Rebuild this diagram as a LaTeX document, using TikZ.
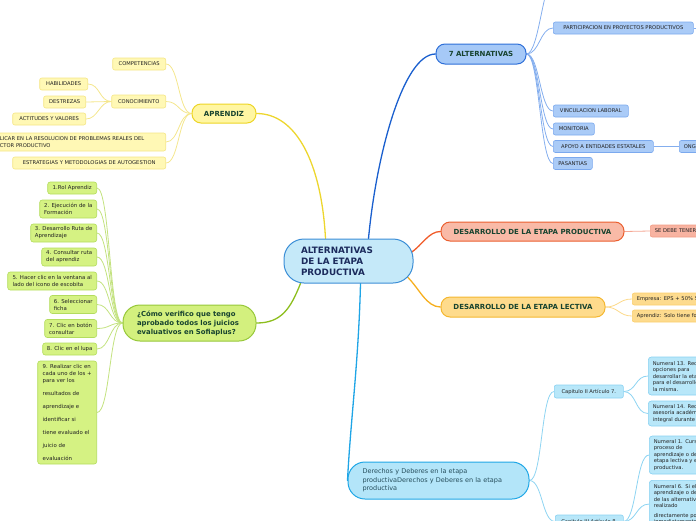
\documentclass[tikz,border=0pt]{standalone}
\usepackage{fontspec}
\setmainfont{DejaVu Sans}
\usetikzlibrary{backgrounds}
\newcommand\myfs[2]{\fontsize{#1}{#2}\selectfont}
\definecolor{cfill}{HTML}{C5E9F9}
\definecolor{cborder}{HTML}{3B8ED6}
\definecolor{ctext}{HTML}{1B2A5C}
\definecolor{yfill}{HTML}{FFF6A3}
\definecolor{yborder}{HTML}{EDD526}
\definecolor{ysfill}{HTML}{FFF8B5}
\definecolor{ysborder}{HTML}{F5E685}
\definecolor{ylinec}{HTML}{EDD62E}
\definecolor{ysubc}{HTML}{F4E68C}
\definecolor{gfill}{HTML}{D3F07E}
\definecolor{gborder}{HTML}{97C83A}
\definecolor{gsfill}{HTML}{D5F283}
\definecolor{gsborder}{HTML}{B3DC5E}
\definecolor{glinec}{HTML}{8DBE1E}
\definecolor{gsubc}{HTML}{C3E27F}
\definecolor{bfill}{HTML}{A6C9F7}
\definecolor{bborder}{HTML}{2E6FD8}
\definecolor{bsfill}{HTML}{AACBF7}
\definecolor{bsborder}{HTML}{7BA9EE}
\definecolor{blinec}{HTML}{1A5FCE}
\definecolor{bsubc}{HTML}{84AEEE}
\definecolor{rfill}{HTML}{F9BAA7}
\definecolor{rborder}{HTML}{EB5F2F}
\definecolor{rsfill}{HTML}{F8B3A1}
\definecolor{rsborder}{HTML}{F29D86}
\definecolor{rlinec}{HTML}{F05B29}
\definecolor{rsubc}{HTML}{F5A693}
\definecolor{ofill}{HTML}{FEDB8C}
\definecolor{oborder}{HTML}{F4B730}
\definecolor{osfill}{HTML}{FDDB8E}
\definecolor{osborder}{HTML}{FBCF6C}
\definecolor{olinec}{HTML}{F6AF1F}
\definecolor{osubc}{HTML}{FCD98A}
\definecolor{cyfill}{HTML}{B3E5F9}
\definecolor{cyborder}{HTML}{20A7E6}
\definecolor{cysfill}{HTML}{B8E7F9}
\definecolor{cysborder}{HTML}{88D1F2}
\definecolor{cylinec}{HTML}{1FA5E6}
\definecolor{cysubc}{HTML}{8ED4F2}
\definecolor{tdark}{HTML}{17432F}
\definecolor{tsmall}{HTML}{222222}
\definecolor{tder}{HTML}{264E5C}
\begin{document}
\begin{tikzpicture}[x=1pt,y=-1pt,
  branch/.style={line width=1pt, rounded corners=9pt, minimum height=19pt, inner sep=0pt,
    font=\bfseries\myfs{7}{8}, text=tdark},
  small/.style={line width=0.6pt, rounded corners=2pt, minimum height=12pt, inner xsep=3pt, inner ysep=0pt,
    font=\myfs{5.2}{6.5}, text=tsmall},
  central/.style={draw=cborder, fill=cfill, line width=1pt, rounded corners=20pt, text=ctext,
    font=\bfseries\myfs{8.8}{11}, align=left, text width=95pt, inner xsep=17pt, inner ysep=0pt},
  ybranch/.style={branch, draw=yborder, fill=yfill},
  ysmall/.style={small, draw=ysborder, fill=ysfill, anchor=east},
  gbranch/.style={draw=gborder, fill=gfill, line width=1pt, rounded corners=17pt, text=tdark,
    font=\bfseries\myfs{6.9}{9}, align=left, text width=105pt, inner xsep=14pt, inner ysep=0pt},
  gsmall/.style={small, draw=gsborder, fill=gsfill, anchor=east, align=left, inner xsep=4pt,
    rounded corners=2.5pt, font=\myfs{5.4}{7}},
  bbranch/.style={branch, draw=bborder, fill=bfill, minimum height=20pt},
  bsmall/.style={small, draw=bsborder, fill=bsfill, anchor=west},
  rbranch/.style={branch, draw=rborder, fill=rfill},
  rsmall/.style={small, draw=rsborder, fill=rsfill, anchor=west},
  obranch/.style={branch, draw=oborder, fill=ofill, minimum height=20pt},
  osmall/.style={small, draw=osborder, fill=osfill, anchor=west},
  cybranch/.style={draw=cyborder, fill=cyfill, line width=1pt, rounded corners=17pt, text=tder,
    font=\myfs{6.5}{8.5}, align=left, text width=152pt, inner xsep=14.5pt, inner ysep=0pt},
  cysmall/.style={small, draw=cysborder, fill=cysfill, anchor=west},
  cynum/.style={small, draw=cysborder, fill=cysfill, anchor=west, align=left, text width=150pt,
    inner xsep=4.5pt, rounded corners=3pt},
  clipped/.style={text width=#1, align=left, inner xsep=4.5pt},
  leftkid/.style={out=180,in=0,distance=13pt},
  rightkid/.style={out=0,in=180,distance=13pt},
  mainlink/.style={line width=1.3pt, line cap=round},
  sublink/.style={line width=0.8pt},
]
\useasboundingbox (0,0) rectangle (696,520);
\clip (0,0) rectangle (696,520);

% central
\node[central, minimum width=129pt, minimum height=44pt] (central) at (348.5,261)
  {ALTERNATIVAS\\DE LA ETAPA\\PRODUCTIVA};

% yellow branch
\node[ybranch, minimum width=64pt] (aprendiz) at (224,113.5) {APRENDIZ};
\node[ysmall, minimum width=53pt] (compet) at (166,64) {COMPETENCIAS};
\node[ysmall, minimum width=54pt, minimum height=13pt] (conoc) at (166,101.5) {CONOCIMIENTO};
\node[ysmall, minimum width=48pt] (habil) at (88,84) {HABILIDADES};
\node[ysmall, minimum width=42pt] (destr) at (86,102) {DESTREZAS};
\node[ysmall, minimum width=73pt] (actit) at (86,119) {ACTITUDES Y VALORES};
\node[ysmall, minimum height=18pt, clipped=168pt] (aplic) at (166,142)
  {APLICAR EN LA RESOLUCION DE PROBLEMAS REALES DEL\\SECTOR PRODUCTIVO};
\node[ysmall, minimum width=153pt] (estrat) at (166,163) {ESTRATEGIAS Y METODOLOGIAS DE AUTOGESTION};

% green branch
\node[gbranch, minimum width=133pt, minimum height=36pt] (gmain) at (189.5,323)
  {¿Cómo verifico que tengo\\aprobado todos los juicios\\evaluativos en Sofiaplus?};
\node[gsmall, minimum width=49pt, minimum height=12pt] (g1) at (97,188) {1.Rol Aprendiz};
\node[gsmall, minimum width=57pt, minimum height=18pt] (g2) at (97,209) {2. Ejecución de la\\Formación};
\node[gsmall, minimum width=66pt, minimum height=18pt] (g3) at (97,233) {3. Desarrollo Ruta de\\Aprendizaje};
\node[gsmall, minimum width=55pt, minimum height=18pt] (g4) at (97,257) {4. Consultar ruta\\del aprendiz};
\node[gsmall, minimum width=89pt, minimum height=18pt] (g5) at (97,281) {5. Hacer clic en la ventana al\\lado del icono de escobita};
\node[gsmall, minimum width=47pt, minimum height=18pt] (g6) at (97,304.5) {6. Seleccionar\\ficha};
\node[gsmall, minimum width=52pt, minimum height=18pt] (g7) at (97,328.5) {7. Clic en botón\\consultar};
\node[gsmall, minimum width=54pt, minimum height=12pt] (g8) at (97,349) {8. Clic en el lupa};
\node[gsmall, minimum width=59pt, minimum height=103pt] (g9) at (97,412.5)
  {9. Realizar clic en\\cada uno de los +\\para ver los\\[6pt]resultados de\\[6pt]aprendizaje e\\[6pt]identificar si\\[6pt]tiene evaluado el\\[6pt]juicio de\\[6pt]evaluación};

% blue branch
\node[bbranch, minimum width=90pt] (alt7) at (481,54) {7 ALTERNATIVAS};
\node[bsmall, minimum width=140pt] (partic) at (553,28) {PARTICIPACION EN PROYECTOS PRODUCTIVOS};
\node[bsmall, minimum width=75pt] (vinc) at (553,111) {VINCULACION LABORAL};
\node[bsmall, minimum width=41pt] (monit) at (553,129) {MONITORIA};
\node[bsmall, minimum width=100pt] (apoyo) at (553,146.5) {APOYO A ENTIDADES ESTATALES};
\node[bsmall, clipped=40pt] (ong) at (679,146.5) {ONG};
\node[bsmall, minimum width=39pt] (pasant) at (553,163.5) {PASANTIAS};
\coordinate (bup) at (556,-25);
\coordinate (partnext) at (720,28);

% red branch
\node[rbranch, minimum width=183pt] (prod) at (532.5,231.5) {DESARROLLO DE LA ETAPA PRODUCTIVA};
\node[rsmall, clipped=110pt] (setener) at (650,231) {SE DEBE TENER EN CUENTA};

% orange branch
\node[obranch, minimum width=164pt] (lect) at (523,307) {DESARROLLO DE LA ETAPA LECTIVA};
\node[osmall, clipped=110pt] (empresa) at (632,299) {Empresa: EPS + 50\% SMMLV};
\node[osmall, clipped=110pt] (aprsolo) at (632,316) {Aprendiz: Solo tiene formación};

% cyan branch
\node[cybranch, minimum width=181pt, minimum height=37pt] (derechos) at (438.5,480.5)
  {Derechos y Deberes en la etapa\\productivaDerechos y Deberes en la etapa\\productiva};
\node[cysmall, minimum width=69pt, minimum height=13pt] (cap2) at (554,391.5) {Capitulo II Artículo 7.};
\node[cysmall, minimum width=68pt, minimum height=13pt] (cap3) at (555,521.5) {Capitulo III Artículo 8.};
\node[cynum, minimum height=38pt] (num13) at (648,376)
  {Numeral 13. Recibir información sobre las\\opciones para\\desarrollar la etapa productiva\\para el desarrollo de\\la misma.};
\node[cynum, minimum height=25pt] (num14) at (648,413.5)
  {Numeral 14. Recibir\\asesoría académica\\integral durante};
\node[cynum, minimum height=38pt] (num1) at (649,455)
  {Numeral 1. Cursar el\\proceso de\\aprendizaje o de formación\\etapa lectiva y etapa\\productiva.};
\node[cynum, anchor=north west, inner ysep=4pt] (num6) at (649,480)
  {Numeral 6. Si el\\aprendizaje o de\\de las alternativas\\realizado\\[3pt]directamente por\\inmediatamente};

\begin{pgfonlayer}{background}
  % main links
  \draw[mainlink, draw=ylinec] ([xshift=-23pt]central.north) .. controls +(-4,-75) and +(40,0) .. (aprendiz.east);
  \draw[mainlink, draw=blinec] ([xshift=20pt]central.north) .. controls +(8,-85) and +(-32,0) .. (alt7.west);
  \draw[mainlink, draw=rlinec] ([xshift=-3pt,yshift=8pt]central.east) .. controls +(12,-8) and +(-12,0) .. (prod.west);
  \draw[mainlink, draw=olinec] ([xshift=-6pt,yshift=-16pt]central.east) .. controls +(12,12) and +(-14,0) .. (lect.west);
  \draw[mainlink, draw=glinec] ([xshift=-48pt]central.south) .. controls +(-10,25) and +(25,0) .. (gmain.east);
  \draw[mainlink, draw=cylinec] ([xshift=12pt]central.south) .. controls +(-2,80) and +(3,-60) .. (derechos.west);
  % yellow
  \foreach \n in {compet,conoc,aplic,estrat}
    \draw[sublink, draw=ysubc] (aprendiz.west) to[leftkid] (\n.east);
  \foreach \n in {habil,destr,actit}
    \draw[sublink, draw=ysubc] (conoc.west) to[out=180,in=0,distance=12pt] (\n.east);
  % green
  \foreach \n in {g1,g2,g3,g4,g5,g6,g7,g8,g9}
    \draw[sublink, draw=gsubc] (gmain.west) to[leftkid] (\n.east);
  % blue
  \foreach \n in {partic,vinc,monit,apoyo,pasant}
    \draw[sublink, draw=bsubc] (alt7.east) to[rightkid] (\n.west);
  \draw[sublink, draw=bsubc] (alt7.east) to[rightkid] (bup);
  \draw[sublink, draw=bsubc] (apoyo.east) -- (ong.west);
  \draw[sublink, draw=bsubc] (partic.east) -- (partnext);
  % red
  \draw[sublink, draw=rsubc] (prod.east) -- (setener.west);
  % orange
  \foreach \n in {empresa,aprsolo}
    \draw[sublink, draw=osubc] (lect.east) to[rightkid] (\n.west);
  % cyan
  \foreach \n in {cap2,cap3}
    \draw[sublink, draw=cysubc] (derechos.east) to[rightkid] (\n.west);
  \foreach \n in {num13,num14}
    \draw[sublink, draw=cysubc] (cap2.east) to[rightkid] (\n.west);
  \foreach \n in {num1,num6}
    \draw[sublink, draw=cysubc] (cap3.east) to[rightkid] (\n.west);
\end{pgfonlayer}
\end{tikzpicture}
\end{document}
